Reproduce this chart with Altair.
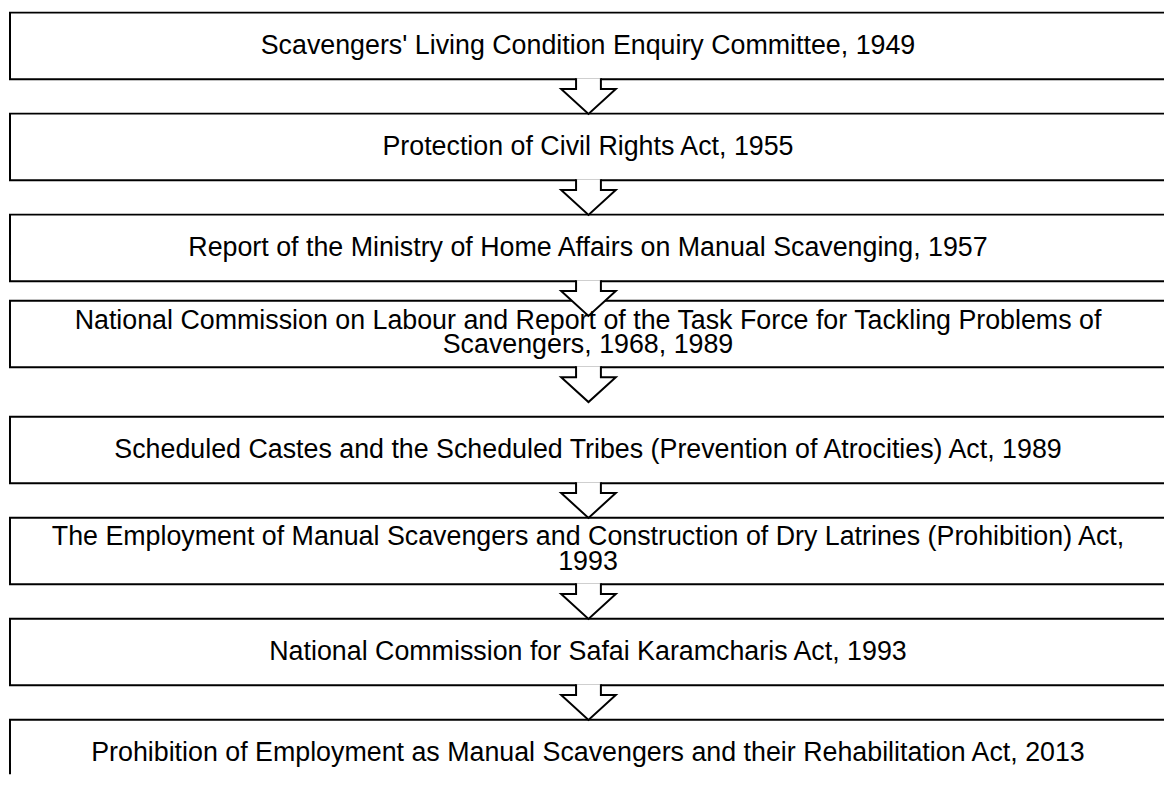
import altair as alt
import pandas as pd

# ---- content -------------------------------------------------------------
titles = [
    "Scavengers' Living Condition Enquiry Committee, 1949",
    "Protection of Civil Rights Act, 1955",
    "Report of the Ministry of Home Affairs on Manual Scavenging, 1957",
    "National Commission on Labour and Report of the Task Force for Tackling Problems of\nScavengers, 1968, 1989",
    "Scheduled Castes and the Scheduled Tribes (Prevention of Atrocities) Act, 1989",
    "The Employment of Manual Scavengers and Construction of Dry Latrines (Prohibition) Act,\n1993",
    "National Commission for Safai Karamcharis Act, 1993",
    "Prohibition of Employment as Manual Scavengers and their Rehabilitation Act, 2013",
]

# ---- layout (pixels of the page) ----------------------------------------
W, H = 1164, 769          # chart size
OFF = 8                   # page margin
BOX_L, BOX_R = 10, 1176
TOP0, PITCH, BOX_H = 10, 101.7, 67
NUDGE = {3: -15}          # the two-line box sits a little higher
CX = 592.5
ARROW_LEN, SHAFT_LEN = 35, 11
HEAD_HALF, SHAFT_HALF = 27.5, 12.5
LH = 25

boxes, lines, arrows = [], [], []
for i, t in enumerate(titles):
    top = TOP0 + i * PITCH + NUDGE.get(i, 0)
    bot = top + BOX_H
    boxes.append({"x": BOX_L, "x2": BOX_R, "y": top, "y2": bot})
    parts = t.split("\n")
    n = len(parts)
    c = (top + bot) / 2
    for j, p in enumerate(parts):
        lines.append({"x": CX - 0.5, "y": c + 8.5 - (n - 1) * LH / 2 + j * LH - (1.5 if n > 1 else 0), "t": p})
    if i < len(titles) - 1:
        arrows.append({"x": CX, "y": bot - 1 + (ARROW_LEN + 1) / 2})

half_h = (ARROW_LEN + 1) / 2
s = HEAD_HALF
top_u = -half_h / s
tip_u = half_h / s
head_u = (-half_h + SHAFT_LEN) / s
sh = SHAFT_HALF / s
arrow_path = (
    f"M {-sh:.4f} {top_u:.4f} L {-sh:.4f} {head_u:.4f} L -1 {head_u:.4f} "
    f"L 0 {tip_u:.4f} L 1 {head_u:.4f} L {sh:.4f} {head_u:.4f} L {sh:.4f} {top_u:.4f}"
)

xs = alt.Scale(domain=[OFF, OFF + W], nice=False, zero=False)
ys = alt.Scale(domain=[OFF, OFF + H], nice=False, zero=False, reverse=True)

box_layer = alt.Chart(pd.DataFrame(boxes)).mark_rect(
    fill="white", stroke="black", strokeWidth=2, clip=True
).encode(
    x=alt.X("x:Q", scale=xs, axis=None),
    x2="x2:Q",
    y=alt.Y("y:Q", scale=ys, axis=None),
    y2="y2:Q",
)

arrow_layer = alt.Chart(pd.DataFrame(arrows)).mark_point(
    shape=arrow_path, size=(2 * s) ** 2, filled=True, fill="white",
    stroke="black", strokeWidth=2, opacity=1, fillOpacity=1, strokeOpacity=1,
    strokeJoin="miter",
).encode(
    x=alt.X("x:Q", scale=xs, axis=None),
    y=alt.Y("y:Q", scale=ys, axis=None),
)

text_layer = alt.Chart(pd.DataFrame(lines)).mark_text(
    font="Liberation Sans", fontSize=27, align="center",
    baseline="alphabetic", color="black",
).encode(
    x=alt.X("x:Q", scale=xs, axis=None),
    y=alt.Y("y:Q", scale=ys, axis=None),
    text="t:N",
)

chart = alt.layer(box_layer, arrow_layer, text_layer).properties(
    width=W, height=H, padding=0, autosize="none", background="white"
).configure_view(stroke=None)

chart.save("out.html", embed_options={"renderer": "svg", "actions": False})
